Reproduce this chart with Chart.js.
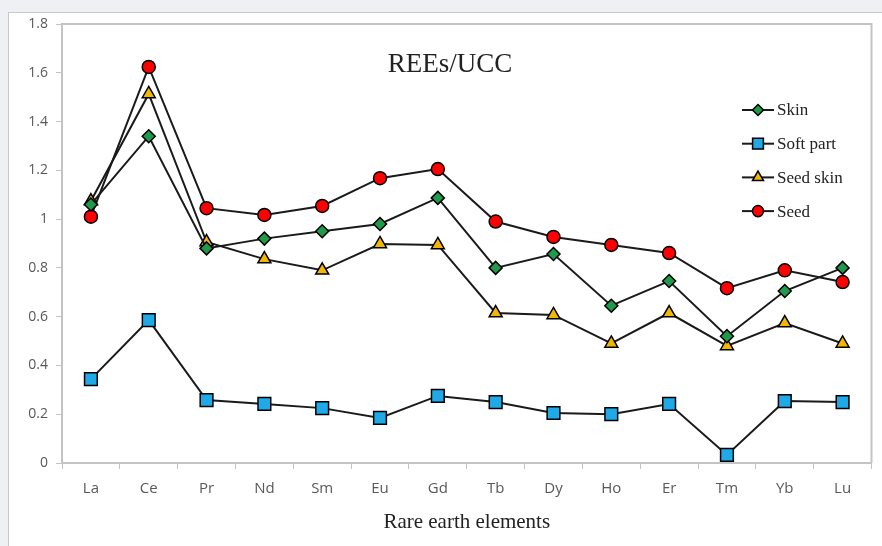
<!DOCTYPE html>
<html lang="en">
<head>
<meta charset="UTF-8">
<title>REEs/UCC</title>
<script src="https://cdn.jsdelivr.net/npm/chart.js@4.4.1/dist/chart.umd.min.js"></script>
<style>
  html, body { margin: 0; padding: 0; background: #eef0f3; }
  #wrap { position: relative; width: 882px; height: 546px; overflow: hidden; }
  #panel { position: absolute; left: 8px; top: 12px; width: 900px; height: 560px;
           background: #fff; border: 1px solid #c9c9c9; }
  #myChart { position: absolute; left: 0; top: 0; }
</style>
</head>
<body>
<div id="wrap">
  <div id="panel"></div>
  <canvas id="myChart" width="882" height="546"></canvas>
</div>
<script>
    const elements = ["La", "Ce", "Pr", "Nd", "Sm", "Eu", "Gd", "Tb", "Dy", "Ho", "Er", "Tm", "Yb", "Lu"];
    const skin     = [1.06, 1.34, 0.88, 0.92, 0.95, 0.98, 1.087, 0.80, 0.857, 0.645, 0.746, 0.52, 0.705, 0.80];
    const softPart = [0.344, 0.586, 0.258, 0.242, 0.225, 0.185, 0.275, 0.25, 0.205, 0.20, 0.242, 0.033, 0.254, 0.25];
    const seedSkin = [1.074, 1.513, 0.906, 0.836, 0.79, 0.898, 0.894, 0.615, 0.607, 0.49, 0.615, 0.48, 0.574, 0.49];
    const seed     = [1.01, 1.624, 1.045, 1.017, 1.054, 1.168, 1.205, 0.99, 0.927, 0.894, 0.861, 0.717, 0.79, 0.742];
    const yTicks   = [0, 0.2, 0.4, 0.6, 0.8, 1, 1.2, 1.4, 1.6, 1.8];

    const serif = "'Liberation Serif', 'Times New Roman', serif";
    const sans = "'Open Sans', 'Noto Sans', sans-serif";

    function series(label, data, style, color, radius) {
        return {
            label: label,
            data: data,
            borderColor: "#1a1a1a",
            borderWidth: 2,
            pointStyle: style,
            pointRadius: radius,
            pointHoverRadius: radius,
            pointBackgroundColor: color,
            pointBorderColor: "#000",
            pointBorderWidth: 1.5,
            tension: 0,
            fill: false
        };
    }

    // plot frame, inner title and legend
    const extras = {
        id: "extras",
        afterDraw(chart) {
            const ctx = chart.ctx;
            const a = chart.chartArea;
            ctx.save();
            ctx.strokeStyle = "#c4c4c4";
            ctx.lineWidth = 2;
            ctx.beginPath();
            ctx.moveTo(a.left, a.top);
            ctx.lineTo(a.right, a.top);
            ctx.lineTo(a.right, a.bottom);
            ctx.stroke();

            ctx.fillStyle = "#222";
            ctx.font = "27px " + serif;
            ctx.textAlign = "center";
            ctx.textBaseline = "middle";
            ctx.fillText("REEs/UCC", 450, 65);

            ctx.font = "17px " + serif;
            ctx.textAlign = "left";
            chart.data.datasets.forEach((ds, i) => {
                const y = 110 + i * 33.7;
                ctx.strokeStyle = "#1a1a1a";
                ctx.lineWidth = 2;
                ctx.beginPath();
                ctx.moveTo(742, y);
                ctx.lineTo(774, y);
                ctx.stroke();
                ctx.fillStyle = ds.pointBackgroundColor;
                ctx.strokeStyle = "#000";
                ctx.lineWidth = 1.5;
                Chart.helpers.drawPoint(ctx, {
                    pointStyle: ds.pointStyle, rotation: 0, borderWidth: 1.5,
                    radius: ds.pointRadius * 0.85
                }, 758, y);
                ctx.fillStyle = "#222";
                ctx.fillText(ds.label, 777, y + 1);
            });
            ctx.restore();
        }
    };

    const myChart = new Chart("myChart", {
        type: "line",
        data: {
            labels: elements,
            datasets: [
                series("Skin", skin, "rectRot", "#1e9a4c", 6.5),
                series("Soft part", softPart, "rect", "#1fa9e6", 9),
                series("Seed skin", seedSkin, "triangle", "#f2b705", 7.5),
                series("Seed", seed, "circle", "#ff0000", 6.5)
            ]
        },
        options: {
            responsive: false,
            animation: false,
            layout: { padding: { top: 24, right: 4, left: 0, bottom: 0 } },
            plugins: {
                legend: { display: false },
                tooltip: { enabled: false }
            },
            scales: {
                x: {
                    offset: true,
                    grid: { offset: true, drawOnChartArea: false, tickLength: 6, color: "#c4c4c4", lineWidth: 1 },
                    border: { color: "#c4c4c4", width: 2 },
                    ticks: { color: "#595959", font: { family: sans, size: 15 }, padding: 11, maxRotation: 0 },
                    title: {
                        display: true,
                        text: "Rare earth elements",
                        color: "#222",
                        font: { family: serif, size: 21 },
                        padding: { top: 10, bottom: 11 }
                    },
                    afterFit(scale) { scale.height = 83; }
                },
                y: {
                    min: 0,
                    max: 1.8,
                    afterBuildTicks(scale) { scale.ticks = yTicks.map(v => ({ value: v })); },
                    grid: { drawOnChartArea: false, tickLength: 6, color: "#c4c4c4" },
                    border: { color: "#c4c4c4", width: 2 },
                    ticks: {
                        color: "#595959",
                        font: { family: sans, size: 14 },
                        padding: 8,
                        callback: v => String(+v.toFixed(1))
                    },
                    afterFit(scale) { scale.width = 62; }
                }
            }
        },
        plugins: [extras]
    });
</script>
</body>
</html>
